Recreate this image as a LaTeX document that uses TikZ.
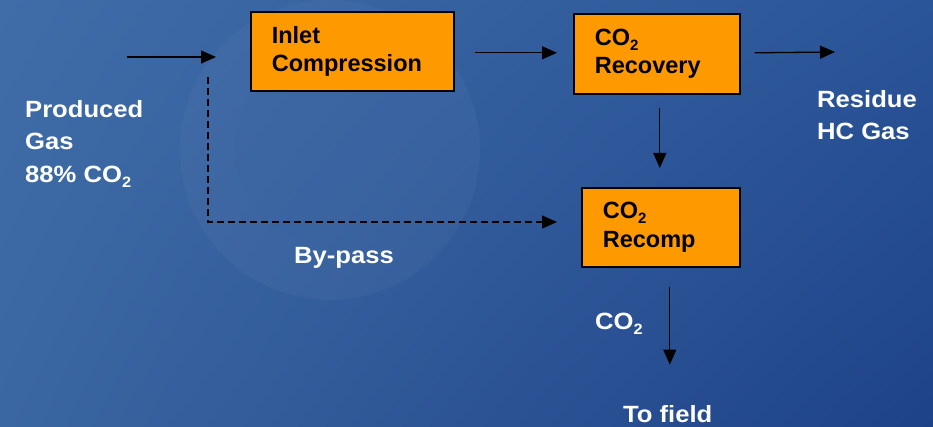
\documentclass[tikz,border=0pt]{standalone}
\usepackage{fontspec}
\setmainfont{Liberation Sans}
\newfontfamily\widesans[FakeStretch=1.09]{Liberation Sans}
\usetikzlibrary{arrows.meta,calc,shadings}
\definecolor{bgTL}{RGB}{64,109,168}
\definecolor{bgTR}{RGB}{42,85,152}
\definecolor{bgBL}{RGB}{58,102,161}
\definecolor{bgBR}{RGB}{30,66,136}
\definecolor{boxorange}{RGB}{255,153,0}
\newcommand{\subtwo}{\raisebox{-5pt}{\fontsize{15}{15}\selectfont 2}}
\tikzset{
  procbox/.style={draw=black, line width=1.6pt, fill=boxorange, anchor=north west,
    align=left, inner xsep=21pt, inner ysep=0pt, text=black,
    font=\fontsize{23.5}{28.5}\selectfont\bfseries},
  lbl/.style={text=white, inner sep=0pt, align=left,
    font=\widesans\fontsize{23.5}{32.5}\selectfont\bfseries},
  arr/.style={line width=1.3pt, -{Triangle[length=15pt,width=13pt]}},
  bypass/.style={arr, dash pattern=on 7pt off 4pt}
}
\begin{document}
\begin{tikzpicture}[x=1pt,y=-1pt]
\useasboundingbox (0,0) rectangle (933,427);
\shade[upper left=bgTL, upper right=bgTR, lower left=bgBL, lower right=bgBR] (0,0) rectangle (933,427);
% faint watermark
\fill[white, opacity=0.03] (330,150) circle (150);
\fill[bgBL, opacity=0.04] (330,150) circle (95);

% boxes
\node[procbox, minimum width=203pt, minimum height=79pt, text width=161pt] (inlet) at (250,11) {Inlet\\Compression};
\node[procbox, minimum width=166pt, minimum height=80pt, text width=124pt] (recov) at (573,13) {CO\subtwo\\Recovery};
\node[procbox, minimum width=158pt, minimum height=79pt, text width=116pt] (recomp) at (581,187) {CO\subtwo\\Recomp};

% labels
\node[lbl, anchor=north west] (prod) at (25,100) {Produced\\Gas\\88\% CO\subtwo};
\node[lbl, anchor=north west] (resid) at (817,90) {Residue\\HC Gas};
\node[lbl, anchor=base west] (bypasslbl) at (294,264) {By-pass};
\node[lbl, anchor=base west] (co2lbl) at (595,329) {CO\subtwo};
\node[lbl, anchor=base west] (field) at (623,422) {To field};

% coordinates
\coordinate (inStart) at (127,57);
\coordinate (inEnd) at (216,57);
\coordinate (split) at (208,77);
\coordinate (bpEnd) at (557,222);
\coordinate (resEnd) at (835,52);

% connectors
\draw[arr] (inStart) -- (inEnd);
\draw[arr] ([xshift=20pt,yshift=-1.5pt]inlet.east) -- ([xshift=-16pt,yshift=1pt]recov.west);
\draw[arr] ([xshift=14pt,yshift=1pt]recov.east) -- (resEnd);
\draw[arr] ([xshift=3pt,yshift=-13pt]recov.south) -- ([xshift=-1pt,yshift=19pt]recomp.north);
\draw[bypass] (split) |- (bpEnd);
\draw[arr] ([xshift=9pt,yshift=-19pt]recomp.south) -- ++(0,78);
\end{tikzpicture}
\end{document}
